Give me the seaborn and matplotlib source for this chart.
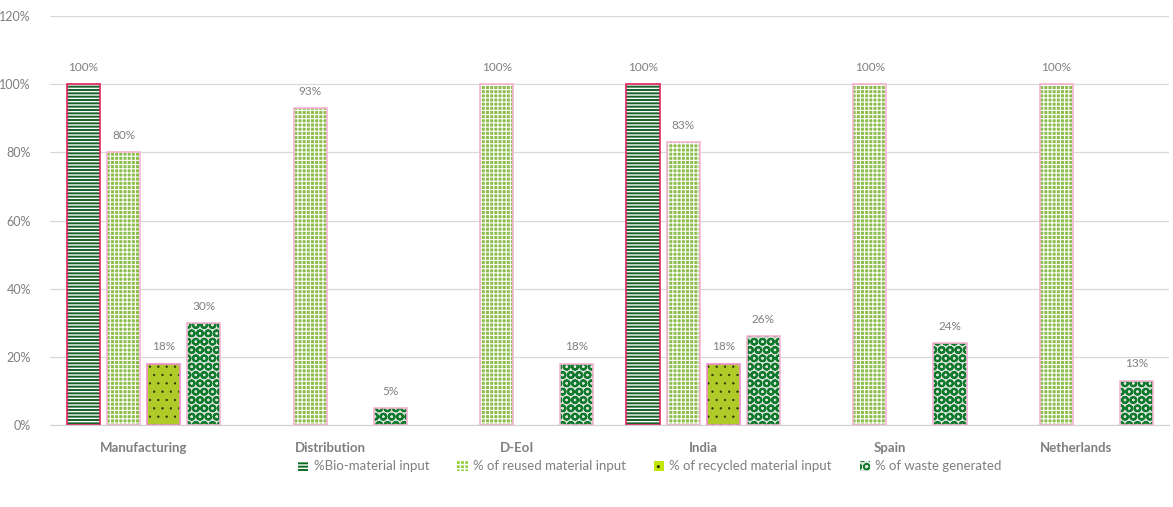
import numpy as np
import pandas as pd
import matplotlib
matplotlib.use("Agg")
import matplotlib.pyplot as plt
from matplotlib.patches import Patch, Rectangle
import seaborn as sns

# 数据
categories = ["Manufacturing", "Distribution", "D-EoI", "India", "Spain", "Netherlands"]
series = ["%Bio-material input", "% of reused material input",
          "% of recycled material input", "% of waste generated"]
bio = [100, np.nan, np.nan, 100, np.nan, np.nan]
reused = [80, 93, 100, 83, 100, 100]
recycled = [18, np.nan, np.nan, 18, np.nan, np.nan]
waste = [30, 5, 18, 26, 24, 13]

# 样式
face = ["#0a6b1f", "#8fcf3c", "#c2e60c", "#dde4dd"]
hatch_col = ["#ffffff", "#ffffff", "#24320a", "#0f7a2c"]
hatches = ["-----", "++++", "..", "OO"]
hatch_lw = [1.0, 0.8, 0.4, 1.5]
edge = ["#e0245e", "#f5b3d3", "#f08ccf", "#f5b3d3"]
grey = "#7f7f7f"

rows = []
for vals, s in zip([bio, reused, recycled, waste], series):
    for c, v in zip(categories, vals):
        rows.append({"cat": c, "series": s, "value": v})
df = pd.DataFrame(rows)

sns.set_style("white")
plt.rcParams["font.family"] = ["Lato", "DejaVu Sans"]
plt.rcParams["hatch.linewidth"] = 1.0

fig = plt.figure(figsize=(11.73, 5.07), dpi=100)
ax = fig.add_axes([0.043, 0.162, 0.954, 0.806])

sns.barplot(data=df, x="cat", y="value", hue="series", order=categories,
            hue_order=series, palette=dict(zip(series, face)),
            width=0.86, gap=0.17, errorbar=None, legend=False, ax=ax)


def style_hatch(p, i):
    p.set_edgecolor(hatch_col[i])
    p.set_hatch(hatches[i])
    p.set_linewidth(0)
    if hasattr(p, "set_hatch_linewidth"):
        p.set_hatch_linewidth(hatch_lw[i])


for i, cont in enumerate(ax.containers):
    for p, v in zip(cont.patches, cont.datavalues):
        if not np.isfinite(v):
            p.set_visible(False)
            continue
        style_hatch(p, i)
        ax.add_patch(Rectangle(p.get_xy(), p.get_width(), p.get_height(),
                               fill=False, edgecolor=edge[i], lw=1.2, zorder=p.get_zorder() + 0.1))
    labels = [f"{v:.0f}%" if np.isfinite(v) else "" for v in cont.datavalues]
    ax.bar_label(cont, labels=labels, padding=8, color=grey, fontsize=8.5)

ax.set_ylim(0, 120)
ax.set_yticks(range(0, 121, 20))
ax.set_yticklabels([f"{t}%" for t in range(0, 121, 20)], color=grey, fontsize=9)
ax.set_xlim(-0.5, len(categories) - 0.5)
ax.set_xlabel("")
ax.set_ylabel("")
ax.tick_params(axis="x", length=0, pad=12)
ax.tick_params(axis="y", length=0, pad=14)
for t in ax.get_xticklabels():
    t.set_color(grey)
    t.set_fontweight("bold")
    t.set_fontsize(9.5)
ax.yaxis.grid(True, color="#d9d9d9", lw=0.9)
ax.set_axisbelow(True)
for s in ["left", "right", "top"]:
    ax.spines[s].set_visible(False)
ax.spines["bottom"].set_color("#d0d0d0")

handles = []
for i in range(4):
    h = Patch(facecolor=face[i], edgecolor=hatch_col[i], hatch=hatches[i], lw=0)
    if hasattr(h, "set_hatch_linewidth"):
        h.set_hatch_linewidth(hatch_lw[i])
    handles.append(h)
fig.legend(handles, series, loc="center", bbox_to_anchor=(0.554, 0.08), ncol=4,
           frameon=False, fontsize=9.5, labelcolor=grey, handlelength=0.8,
           handleheight=0.8, columnspacing=2.1, handletextpad=0.4)

fig.savefig("out.png", dpi=100)
